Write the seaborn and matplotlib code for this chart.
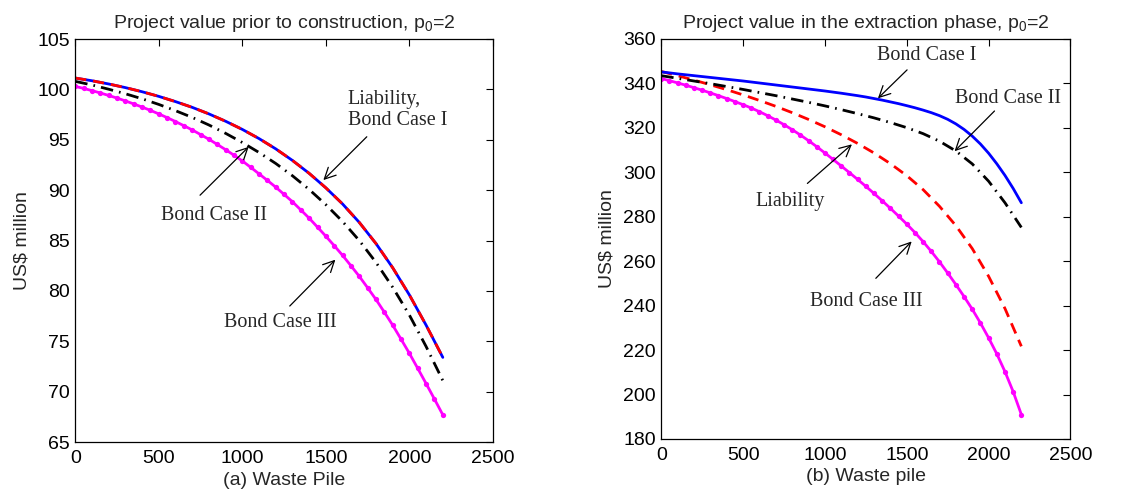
import matplotlib
matplotlib.use("Agg")
import matplotlib.pyplot as plt
import seaborn as sns

# ---------------- data ----------------
x_line = list(range(0, 2201, 100))
x_mark = list(range(0, 2201, 50))

# (a) prior to construction
left_liability = [101.13, 100.86, 100.54, 100.18, 99.77, 99.31, 98.79, 98.22, 97.57, 96.84, 96.03,
                  95.12, 94.10, 92.95, 91.67, 90.23, 88.63, 86.80, 84.70, 82.30, 79.60, 76.60, 73.40]
left_case1 = list(left_liability)
left_case2 = [100.80, 100.44, 100.02, 99.57, 99.07, 98.51, 97.89, 97.22, 96.47, 95.64, 94.73,
              93.74, 92.65, 91.43, 90.07, 88.56, 86.89, 85.00, 82.83, 80.36, 77.60, 74.48, 71.10]
left_case3 = [100.30, 100.10, 99.88, 99.65, 99.40, 99.14, 98.86, 98.56, 98.25, 97.92, 97.57,
              97.20, 96.81, 96.40, 95.98, 95.52, 95.05, 94.54, 94.02, 93.47, 92.90, 92.27,
              91.62, 90.97, 90.30, 89.58, 88.85, 88.04, 87.22, 86.33, 85.43, 84.49, 83.53,
              82.50, 81.45, 80.31, 79.15, 77.89, 76.60, 75.21, 73.80, 72.31, 70.80, 69.26, 67.70]

# (b) extraction phase
right_case1 = [345.2, 344.75, 344.3, 343.9, 343.5, 343.1, 342.7, 342.3, 341.9, 341.5, 341.1,
               340.65, 340.2, 339.75, 339.3, 338.85, 338.4, 337.95, 337.5, 337.05, 336.6, 336.1,
               335.6, 335.05, 334.5, 333.9, 333.2, 332.5, 331.7, 330.9, 330.0, 329.05, 328.0,
               326.85, 325.5, 323.85, 321.8, 319.3, 316.3, 312.75, 308.6, 303.85, 298.6, 292.75, 286.3]
right_liability = [345.4, 343.5, 341.5, 339.4, 337.2, 334.85, 332.35, 329.7, 326.85, 323.8, 320.5,
                   316.9, 313.0, 308.7, 303.9, 298.5, 292.2, 284.7, 276.0, 265.7, 253.2, 238.7, 221.7]
right_case2 = [343.5, 342.3, 341.1, 339.9, 338.6, 337.3, 335.9, 334.5, 333.0, 331.5, 329.9,
               328.2, 326.4, 324.5, 322.4, 320.1, 317.4, 314.0, 309.6, 303.8, 296.0, 286.3, 275.2]
right_case3 = [342.2, 341.25, 340.25, 339.2, 338.1, 336.95, 335.75, 334.5, 333.2, 331.85, 330.45,
               328.95, 327.3, 325.5, 323.55, 321.45, 319.2, 316.8, 314.25, 311.55, 308.7, 305.8,
               302.85, 299.85, 296.8, 293.7, 290.5, 287.2, 283.8, 280.3, 276.7, 272.9, 268.8,
               264.4, 259.7, 254.7, 249.5, 244.1, 238.4, 232.2, 225.5, 218.3, 210.3, 201.3, 191.0]

x_ticks = [0, 500, 1000, 1500, 2000, 2500]
left_yticks = [65, 70, 75, 80, 85, 90, 95, 100, 105]
right_yticks = [180, 200, 220, 240, 260, 280, 300, 320, 340, 360]

# ---------------- style ----------------
sns.set_theme(style="white")
plt.rcParams["font.family"] = ["Liberation Sans", "DejaVu Sans"]
plt.rcParams["mathtext.fontset"] = "custom"
plt.rcParams["mathtext.rm"] = "Liberation Sans"
plt.rcParams["mathtext.it"] = "Liberation Sans:italic"

SERIF = ["Liberation Serif", "DejaVu Serif"]
TICK_FS = 14
LAB_FS = 14
ANN_FS = 14.5
LW = 2.0
dash = (0, (4, 2.5))
dashdot = (0, (4.5, 2.2, 0.6, 2.2))

fig = plt.figure(figsize=(11.4, 4.98), dpi=100)
axL = fig.add_axes([0.0660, 0.1124, 0.3664, 0.8092])
axR = fig.add_axes([0.5800, 0.1185, 0.3590, 0.8032])


def style_axes(ax, ylim, yticks):
    ax.set_xlim(0, 2500)
    ax.set_ylim(*ylim)
    ax.set_xticks(x_ticks)
    ax.set_yticks(yticks)
    ax.tick_params(direction="in", top=True, right=True, length=5, width=0.8,
                   labelsize=TICK_FS, colors="black")
    ax.tick_params(axis="x", pad=6)
    ax.tick_params(axis="y", pad=4)
    for s in ax.spines.values():
        s.set_visible(True)
        s.set_color("black")
        s.set_linewidth(0.9)
    ax.grid(False)


def arrow(ax, tail, tip):
    ax.annotate("", xy=tip, xytext=tail,
                arrowprops=dict(arrowstyle="->", lw=0.9, color="black",
                                shrinkA=0, shrinkB=0, mutation_scale=20))


# ---- left panel ----
sns.lineplot(x=x_mark, y=left_case3, ax=axL, color="#ff00ff", lw=LW, marker="o",
             markersize=3.8, markeredgewidth=0, errorbar=None)
sns.lineplot(x=x_line, y=left_case2, ax=axL, color="black", lw=LW, linestyle=dashdot, errorbar=None)
sns.lineplot(x=x_line, y=left_case1, ax=axL, color="blue", lw=LW, errorbar=None)
sns.lineplot(x=x_line, y=left_liability, ax=axL, color="red", lw=LW, linestyle=dash, errorbar=None)
style_axes(axL, (65, 105), left_yticks)
axL.set_title("Project value prior to construction, p$_{\\mathregular{0}}$=2", fontsize=LAB_FS, pad=8)
axL.set_xlabel("(a) Waste Pile", fontsize=LAB_FS, labelpad=3)
axL.set_ylabel("US\\$ million", fontsize=LAB_FS, labelpad=5)

axL.text(1630, 98.0, "Liability,\nBond Case I", family=SERIF, fontsize=ANN_FS,
         ha="left", va="center", linespacing=1.15)
arrow(axL, (1745, 95.3), (1485, 91.0))
axL.text(829, 87.5, "Bond Case II", family=SERIF, fontsize=ANN_FS, ha="center", va="center")
arrow(axL, (747, 89.5), (1038, 94.3))
axL.text(1230, 76.9, "Bond Case III", family=SERIF, fontsize=ANN_FS, ha="center", va="center")
arrow(axL, (1284, 78.5), (1557, 83.1))

# ---- right panel ----
sns.lineplot(x=x_mark, y=right_case3, ax=axR, color="#ff00ff", lw=LW, marker="o",
             markersize=3.8, markeredgewidth=0, errorbar=None)
sns.lineplot(x=x_line, y=right_liability, ax=axR, color="red", lw=LW, linestyle=dash, errorbar=None)
sns.lineplot(x=x_line, y=right_case2, ax=axR, color="black", lw=LW, linestyle=dashdot, errorbar=None)
sns.lineplot(x=x_mark, y=right_case1, ax=axR, color="blue", lw=LW, errorbar=None)
style_axes(axR, (180, 360), right_yticks)
axR.set_title("Project value in the extraction phase, p$_{\\mathregular{0}}$=2", fontsize=LAB_FS, pad=8)
axR.set_xlabel("(b) Waste pile", fontsize=LAB_FS, labelpad=3)
axR.set_ylabel("US\\$ million", fontsize=LAB_FS, labelpad=5)

axR.text(1624, 352.5, "Bond Case I", family=SERIF, fontsize=ANN_FS, ha="center", va="center")
arrow(axR, (1502, 346.1), (1324, 333.3))
axR.text(2120, 333.4, "Bond Case II", family=SERIF, fontsize=ANN_FS, ha="center", va="center")
arrow(axR, (2036, 327.6), (1792, 309.5))
axR.text(785, 287, "Liability", family=SERIF, fontsize=ANN_FS, ha="center", va="center")
arrow(axR, (893, 295), (1165, 312.6))
axR.text(1253, 241.8, "Bond Case III", family=SERIF, fontsize=ANN_FS, ha="center", va="center")
arrow(axR, (1311, 252.3), (1530, 268.9))

fig.savefig("out.png", dpi=100, facecolor="white")
